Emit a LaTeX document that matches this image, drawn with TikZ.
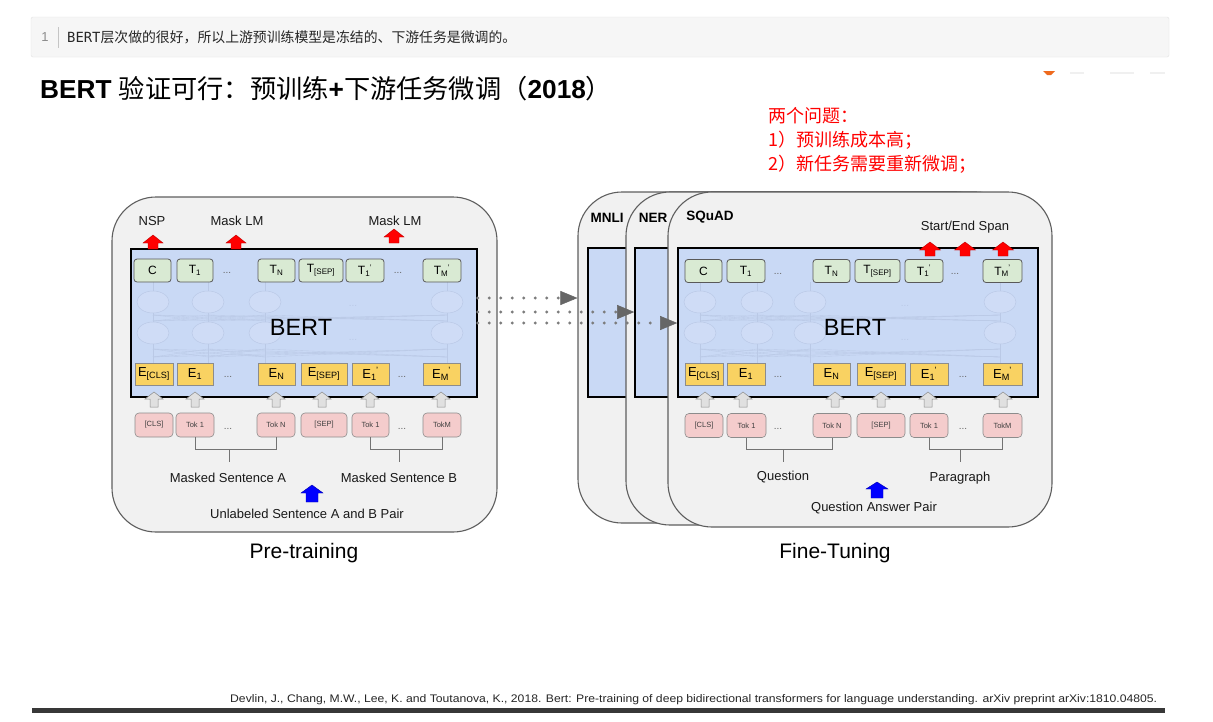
\documentclass[tikz,border=0pt]{standalone}
\usepackage{fontspec}
\usepackage{graphicx}
\setmainfont{Liberation Sans}
\newfontfamily\cjk{Noto Sans CJK SC}
\newfontfamily\monof{DejaVu Sans Mono}
\usetikzlibrary{arrows.meta}
\definecolor{panelfill}{HTML}{F1F1F1}
\definecolor{panelline}{HTML}{5E5E5E}
\definecolor{bertblue}{HTML}{C9D9F5}
\definecolor{tgreen}{HTML}{D9EAD3}
\definecolor{eyellow}{HTML}{F9D262}
\definecolor{tokpink}{HTML}{F4CCCC}
\definecolor{codebg}{HTML}{F6F6F6}
\definecolor{codeline}{HTML}{E2E2E2}
\definecolor{netline}{HTML}{BAC9E6}
\definecolor{netfill}{HTML}{CFDCF6}
\definecolor{dotgray}{HTML}{7C7C7C}
\definecolor{arrowgray}{HTML}{666666}
\definecolor{orangemark}{HTML}{EE6A1E}
\newcommand\setfs[1]{\fontsize{#1}{#1}\selectfont}
\newcommand\subp[1]{\textsubscript{#1}\kern-0.5pt\textsuperscript{'}}
\tikzset{
 panel/.style={draw=panelline, line width=1.1pt, fill=panelfill, rounded corners=44pt, inner sep=0},
 bbox/.style={draw=black, line width=1.6pt, fill=bertblue, inner sep=0},
 tbox/.style={draw=black!65, fill=tgreen, rounded corners=3pt, line width=.8pt, minimum height=23, inner sep=0, font=\setfs{12}},
 ebox/.style={draw=black!45, fill=eyellow, line width=.6pt, minimum height=22, inner sep=0, font=\setfs{13}},
 tokbox/.style={draw=black!45, fill=tokpink, rounded corners=4pt, line width=.6pt, minimum height=24, inner sep=0, font=\setfs{7.5}, text=black!75},
 dots/.style={font=\setfs{10}, text=black!60, inner sep=0},
 faintdots/.style={font=\setfs{10}, text=netline, inner sep=0},
 lab/.style={font=\setfs{13}, text=black!90, inner sep=0},
 task/.style={font=\bfseries\setfs{13.5}, inner sep=0},
 bertlab/.style={font=\setfs{23.5}, inner sep=0},
 capt/.style={font=\setfs{21}, inner sep=0},
 bracket/.style={draw=black!55, line width=.8pt},
 garrow/.style={fill=black!12, draw=black!45, line width=.5pt},
 rarrow/.style={fill=red, draw=red!75!black, line width=.4pt},
 blarrow/.style={fill=blue, draw=blue!70!black, line width=.4pt},
 netell/.style={draw=netline, fill=netfill, line width=.5pt},
 netl/.style={draw=netline, line width=.35pt},
 dotarr/.style={draw=dotgray, line width=3.2pt, line cap=round, dash pattern=on 0pt off 11.5pt, -{Triangle[length=17pt,width=14pt,line width=0.5pt,fill=arrowgray,color=arrowgray]}},
 pics/barr/.style n args={4}{code={\path[pic actions] (-#1/2,0) -- (-#1/2,-#3) -- (-#2/2,-#3) -- (0,-#4) -- (#2/2,-#3) -- (#1/2,-#3) -- (#1/2,0) -- cycle;}}
}
\begin{document}
\begin{tikzpicture}[x=1pt,y=-1pt]
\useasboundingbox (0,0) rectangle (1213,721);
\fill[white] (0,0) rectangle (1213,721);

% ---- code line ----
\node[draw=codeline, fill=codebg, rounded corners=2pt, minimum width=1138, minimum height=40, inner sep=0] (code) at (600,37) {};
\node[font=\setfs{13}, text=black!45, inner sep=0] (lineno) at (45,37) {1};
\coordinate (sepT) at (58,27);
\coordinate (sepB) at (58,48);
\draw[codeline!70!black!60] (sepT) -- (sepB);
\node[anchor=west, inner sep=0, text=black!85] (codetxt) at (67,37) {\resizebox{449pt}{\height}{\setfs{14}{\monof BERT}{\cjk 层次做的很好，所以上游预训练模型是冻结的、下游任务是微调的。}}};

% ---- title ----
\node[anchor=west, inner sep=0] (title) at (40,89) {\resizebox{572pt}{\height}{\setfs{26}\textbf{BERT} {\cjk 验证可行：预训练}\textbf{+}{\cjk 下游任务微调（}\textbf{2018}{\cjk ）}}};

% ---- remnant mark top right ----
\fill[orangemark] (1043,71) -- (1055,71) -- (1051,75) -- (1047,75) -- cycle;
\fill[black!6] (1070,72) rectangle (1084,74);
\fill[black!6] (1110,72) rectangle (1134,74);
\fill[black!6] (1150,72) rectangle (1165,74);

% ---- red notes ----
\node[anchor=west, inner sep=0, text=red, font=\cjk\setfs{18}] (q0) at (768,116) {两个问题：};
\node[anchor=west, inner sep=0, text=red, font=\cjk\setfs{18}] (q1) at (768,140) {1）预训练成本高；};
\node[anchor=west, inner sep=0, text=red, font=\cjk\setfs{18}] (q2) at (768,164) {2）新任务需要重新微调；};

% ================= PRE-TRAINING =================
\node[panel, minimum width=385, minimum height=335] (prep) at (304.5,364.5) {};
\node[bbox, minimum width=346, minimum height=148] (preB) at (304,323) {};
% faint network
\foreach \x in {153,208,265,447} {
  \draw[netl] (\x,282) -- (\x,291);
  \draw[netl] (\x,313) -- (\x,322);
  \draw[netl] (\x,344) -- (\x,363);
  \foreach \y in {153,208,265,447} {
    \draw[netl] (\x,315) -- (\y,321);
    \draw[netl] (\x,349) -- (\y,357);
  }
}
\foreach \x in {153,208,265,447} {
  \draw[netell] (\x,302) ellipse (16 and 11);
  \draw[netell] (\x,333) ellipse (16 and 11);
}
\node[faintdots] (pnd1) at (353,306) {...};
\node[faintdots] (pnd2) at (353,340) {...};
\node[bertlab] (pbert) at (301,327) {BERT};
% T row
\foreach \xa/\xb/\lab/\nm in {134/171/C/c, 177/213/{T\textsubscript{1}}/a, 258/295/{T\textsubscript{N}}/n, 299/343/{T\textsubscript{[SEP]}}/s, 346/384/{T\subp{1}}/b, 423/461/{T\subp{M}}/m}
  \node[tbox, minimum width={(\xb-\xa)*1pt}] (pT\nm) at ({(\xa+\xb)/2},270.5) {\lab};
\node[dots] (pTd1) at (227,273) {...};
\node[dots] (pTd2) at (398,273) {...};
% E row
\foreach \xa/\xb/\lab/\nm in {135/173/{E\textsubscript{[CLS]}}/c, 177/213/{E\textsubscript{1}}/a, 258/295/{E\textsubscript{N}}/n, 301/347/{E\textsubscript{[SEP]}}/s, 352/389/{E\subp{1}}/b, 423/460/{E\subp{M}}/m}
  \node[ebox, minimum width={(\xb-\xa)*1pt}] (pE\nm) at ({(\xa+\xb)/2},374) {\lab};
\node[dots] (pEd1) at (228,377) {...};
\node[dots] (pEd2) at (402,377) {...};
% gray arrows
\foreach \x in {154,195,276,322,370,441}
  \pic[garrow] at (\x,407) {barr={8}{18}{8}{15}};
% Tok row
\foreach \xa/\xb/\lab/\nm in {135/173/{[CLS]}/c, 176/214/{Tok 1}/a, 257/295/{Tok N}/n, 301/347/{[SEP]}/s, 352/389/{Tok 1}/b, 423/461/{TokM}/m}
  \node[tokbox, minimum width={(\xb-\xa)*1pt}] (pK\nm) at ({(\xa+\xb)/2},425) {\lab};
\node[dots] (pKd1) at (228,429) {...};
\node[dots] (pKd2) at (402,429) {...};
% brackets
\draw[bracket] (pKa.south) -- ++(0,12) -| (pKn.south);
\draw[bracket] (pKb.south) -- ++(0,12) -| (pKm.south);
\coordinate (pStA) at (229,449);
\coordinate (pStB) at (399,449);
\draw[bracket] (pStA) -- ++(0,13);
\draw[bracket] (pStB) -- ++(0,13);
\node[lab] (msa) at (228,478) {Masked Sentence A};
\node[lab] (msb) at (399,478) {Masked Sentence B};
\pic[blarrow] at (312,502) {barr={12}{22}{9}{17}};
\node[lab] (unl) at (307,514) {Unlabeled Sentence A and B Pair};
% outputs
\node[lab] (nsp) at (152,221) {NSP};
\node[lab] (mlm1) at (237,221) {Mask LM};
\node[lab] (mlm2) at (395,221) {Mask LM};
\pic[rarrow] at (153,249) {barr={10}{20}{6}{14}};
\pic[rarrow] at (236,249) {barr={10}{20}{6}{14}};
\pic[rarrow] at (394,243) {barr={10}{20}{6}{14}};
\node[capt] (ptcap) at (304,553) {Pre-training};

% ================= FINE-TUNING =================
\node[panel, minimum width=422, minimum height=331] (mnliP) at (789,357.5) {};
\node[bbox, minimum width=402, minimum height=149] (mnliB) at (789,322.5) {};
\node[task] (mnli) at (607,218) {MNLI};
\node[panel, minimum width=394, minimum height=333] (nerP) at (823,358.5) {};
\node[bbox, minimum width=375, minimum height=149] (nerB) at (822.5,322.5) {};
\node[task] (ner) at (653,218) {NER};
\node[panel, minimum width=384, minimum height=335] (sqP) at (860,359.5) {};
\node[bbox, minimum width=360, minimum height=149] (sqB) at (858,322.5) {};
\node[task] (squad) at (710,217) {SQuAD};
% faint network
\foreach \x in {700,757,810,1000} {
  \draw[netl] (\x,282) -- (\x,291);
  \draw[netl] (\x,313) -- (\x,322);
  \draw[netl] (\x,344) -- (\x,363);
  \foreach \y in {700,757,810,1000} {
    \draw[netl] (\x,315) -- (\y,321);
    \draw[netl] (\x,349) -- (\y,357);
  }
}
\foreach \x in {700,757,810,1000} {
  \draw[netell] (\x,302) ellipse (16 and 11);
  \draw[netell] (\x,333) ellipse (16 and 11);
}
\node[faintdots] (fnd1) at (905,306) {...};
\node[faintdots] (fnd2) at (905,340) {...};
\node[bertlab] (fbert) at (855,327) {BERT};
% T row
\foreach \xa/\xb/\lab/\nm in {685/722/C/c, 727/765/{T\textsubscript{1}}/a, 813/850/{T\textsubscript{N}}/n, 855/900/{T\textsubscript{[SEP]}}/s, 905/943/{T\subp{1}}/b, 983/1022/{T\subp{M}}/m}
  \node[tbox, minimum width={(\xb-\xa)*1pt}] (fT\nm) at ({(\xa+\xb)/2},271) {\lab};
\node[dots] (fTd1) at (778,274) {...};
\node[dots] (fTd2) at (955,274) {...};
% E row
\foreach \xa/\xb/\lab/\nm in {685/723/{E\textsubscript{[CLS]}}/c, 727/765/{E\textsubscript{1}}/a, 813/850/{E\textsubscript{N}}/n, 857/905/{E\textsubscript{[SEP]}}/s, 910/948/{E\subp{1}}/b, 983/1022/{E\subp{M}}/m}
  \node[ebox, minimum width={(\xb-\xa)*1pt}] (fE\nm) at ({(\xa+\xb)/2},374) {\lab};
\node[dots] (fEd1) at (778,377) {...};
\node[dots] (fEd2) at (963,377) {...};
\foreach \x in {705,743,835,881,928,1003}
  \pic[garrow] at (\x,407) {barr={8}{18}{8}{15}};
% Tok row
\foreach \xa/\xb/\lab/\nm in {685/723/{[CLS]}/c, 727/766/{Tok 1}/a, 813/851/{Tok N}/n, 857/905/{[SEP]}/s, 910/948/{Tok 1}/b, 983/1022/{TokM}/m}
  \node[tokbox, minimum width={(\xb-\xa)*1pt}] (fK\nm) at ({(\xa+\xb)/2},425.5) {\lab};
\node[dots] (fKd1) at (778,429) {...};
\node[dots] (fKd2) at (963,429) {...};
\draw[bracket] (fKa.south) -- ++(0,11.5) -| (fKn.south);
\draw[bracket] (fKb.south) -- ++(0,11.5) -| (fKm.south);
\coordinate (fStA) at (783,449);
\coordinate (fStB) at (960,449);
\draw[bracket] (fStA) -- ++(0,13);
\draw[bracket] (fStB) -- ++(0,13);
\node[lab] (quest) at (783,477) {Question};
\node[lab] (para) at (960,478) {Paragraph};
\pic[blarrow] at (877,498) {barr={12}{22}{9}{16}};
\node[lab] (qap) at (874,508) {Question Answer Pair};
\node[lab] (ses) at (965,227) {Start/End Span};
\pic[rarrow] at (930,256) {barr={10}{21}{6}{14}};
\pic[rarrow] at (965,256) {barr={10}{21}{6}{14}};
\pic[rarrow] at (1003,256) {barr={10}{21}{6}{14}};
\node[capt] (ftcap) at (835,553) {Fine-Tuning};

% ---- dotted transfer arrows ----
\coordinate (ya) at (0,298);
\coordinate (yb) at (0,312);
\coordinate (yc) at (0,323);
\draw[dotarr] (preB.east |- ya) -- (mnliP.west |- ya);
\draw[dotarr] (preB.east |- yb) -- (nerB.west |- yb);
\draw[dotarr] (preB.east |- yc) -- (sqB.west |- yc);

% ---- citation ----
\node[anchor=west, inner sep=0, text=black!85] (cite) at (230,700) {\resizebox{927pt}{\height}{\setfs{11}Devlin, J., Chang, M.W., Lee, K. and Toutanova, K., 2018. Bert: Pre-training of deep bidirectional transformers for language understanding. arXiv preprint arXiv:1810.04805.}};
\fill[black!78] (32,708) rectangle (1165,713);
\end{tikzpicture}
\end{document}
